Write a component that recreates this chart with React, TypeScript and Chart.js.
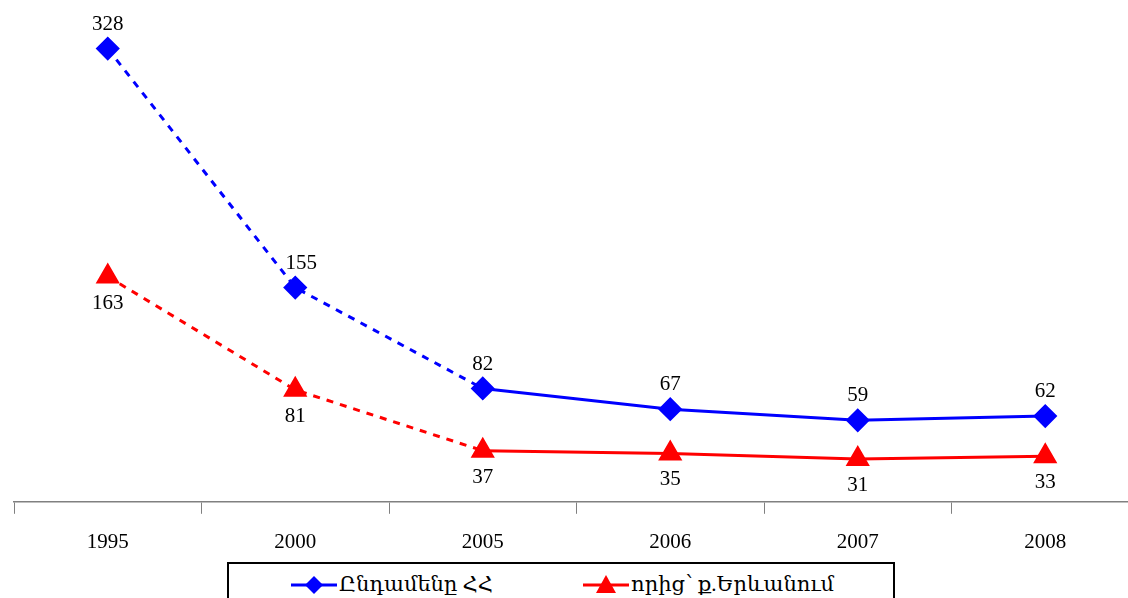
import { useEffect, useRef } from 'react'
import { Chart, registerables } from 'chart.js'

Chart.register(...registerables)

const YEARS = ['1995', '2000', '2005', '2006', '2007', '2008']
const TOTAL = [328, 155, 82, 67, 59, 62]
const YEREVAN = [163, 81, 37, 35, 31, 33]
const LABEL_TOTAL = 'Ընդամենը ՀՀ'
const LABEL_YEREVAN = 'որից՝ ք.Երևանում'

const FONT = '"Liberation Serif", "DejaVu Serif", serif'

const valueLabels = {
  id: 'valueLabels',
  afterDatasetsDraw(chart: Chart) {
    const ctx = chart.ctx
    ctx.save()
    ctx.font = `21px ${FONT}`
    ctx.fillStyle = '#000'
    ctx.textAlign = 'center'
    chart.data.datasets.forEach((ds, i) => {
      const meta = chart.getDatasetMeta(i)
      meta.data.forEach((pt, j) => {
        const v = ds.data[j] as number
        if (i === 0) {
          ctx.textBaseline = 'bottom'
          ctx.fillText(String(v), pt.x + (j === 1 ? 6 : 0), pt.y - 14)
        } else {
          ctx.textBaseline = 'top'
          ctx.fillText(String(v), pt.x, pt.y + 16)
        }
      })
    })
    ctx.restore()
  },
}

export default function App() {
  const canvasRef = useRef<HTMLCanvasElement>(null)

  useEffect(() => {
    document.body.style.margin = '0'
    if (!canvasRef.current) return
    const dash = (c: any) => (c.p0DataIndex < 2 ? [7, 7] : undefined)
    const chart = new Chart(canvasRef.current, {
      type: 'line',
      data: {
        labels: YEARS,
        datasets: [
          {
            label: LABEL_TOTAL,
            data: TOTAL,
            borderColor: '#0000ff',
            backgroundColor: '#0000ff',
            borderWidth: 3,
            pointStyle: 'rectRot',
            pointRadius: 10,
            segment: { borderDash: dash },
          },
          {
            label: LABEL_YEREVAN,
            data: YEREVAN,
            borderColor: '#ff0000',
            backgroundColor: '#ff0000',
            borderWidth: 3,
            pointStyle: 'triangle',
            pointRadius: 11,
            segment: { borderDash: dash },
          },
        ],
      },
      options: {
        animation: false,
        responsive: false,
        layout: { padding: { left: 5, right: 0, top: 0, bottom: 0 } },
        plugins: { legend: { display: false }, tooltip: { enabled: false } },
        scales: {
          x: {
            offset: true,
            grid: { offset: true, drawOnChartArea: false, tickLength: 12, color: '#808080' },
            border: { color: '#808080', width: 1.5 },
            ticks: { color: '#000', font: { family: FONT, size: 21 }, padding: 16 },
          },
          y: { display: false, min: 0, max: 353 },
        },
      },
      plugins: [valueLabels],
    })
    return () => { chart.destroy() }
  }, [])

  const legendItem = (color: string, marker: 'd' | 't', text: string, left: number) => (
    <div style={{ position: 'absolute', left, top: 8, display: 'flex', alignItems: 'center' }}>
      <svg width="46" height="22">
        <line x1="0" y1="11" x2="46" y2="11" stroke={color} strokeWidth="3" />
        {marker === 'd'
          ? <polygon points="23,2 32,11 23,20 14,11" fill={color} />
          : <polygon points="23,1 33,19 13,19" fill={color} />}
      </svg>
      <span style={{ marginLeft: 2, fontFamily: FONT, fontSize: 21 }}>{text}</span>
    </div>
  )

  return (
    <div style={{ position: 'relative', width: 1128, height: 598, overflow: 'hidden', background: '#fff' }}>
      <canvas ref={canvasRef} width={1153} height={571} />
      <div style={{ position: 'absolute', left: 227, top: 562, width: 664, height: 50, border: '2px solid #000', background: '#fff' }}>
        {legendItem('#0000ff', 'd', LABEL_TOTAL, 62)}
        {legendItem('#ff0000', 't', LABEL_YEREVAN, 354)}
      </div>
    </div>
  )
}
